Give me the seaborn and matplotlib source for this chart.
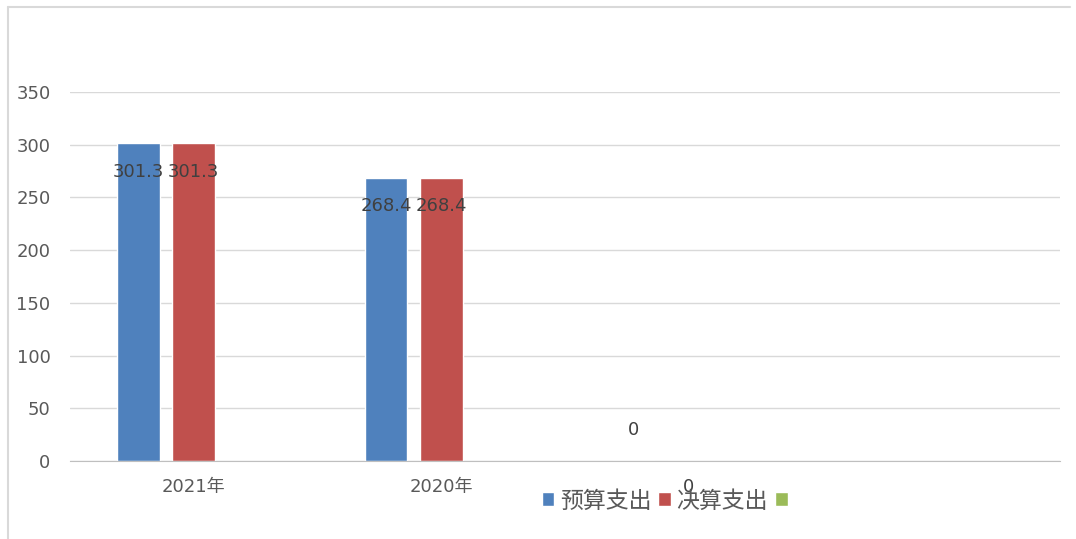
import pandas as pd
import seaborn as sns
import matplotlib.pyplot as plt
from matplotlib.lines import Line2D

# 数据
categories = ['2021年', '2020年', 'c3', 'c4']
tick_labels = ['2021年', '2020年', '', '']
series = ['预算支出', '决算支出', ' ']
budget = [301.3, 268.4, 0, None]
final = [301.3, 268.4, 0, None]
other = [None, None, None, None]
colors = ['#4F81BD', '#C0504D', '#9BBB59']

rows = []
for name, vals in zip(series, [budget, final, other]):
    for c, v in zip(categories, vals):
        rows.append({'cat': c, 'series': name, 'value': v})
data = pd.DataFrame(rows)

sns.set_style('white')
plt.rcParams['font.family'] = ['DejaVu Sans', 'Noto Sans CJK SC']

fig = plt.figure(figsize=(10.76, 5.39), dpi=100)
ax = fig.add_axes([70 / 1076, 1 - 461 / 539, 990 / 1076, (461 - 92) / 539])

sns.barplot(data=data, x='cat', y='value', hue='series', order=categories,
            hue_order=series, palette=colors, width=0.67, gap=0.23,
            saturation=1, ax=ax, legend=True)

ax.set_xlim(-0.5, 3.5)
ax.set_ylim(0, 350)
ax.set_yticks(range(0, 351, 50))
ax.set_xticks(range(4))
ax.set_xticklabels(tick_labels)
ax.set_xlabel('')
ax.set_ylabel('')
ax.yaxis.grid(True, color='#D9D9D9', linewidth=1)
ax.set_axisbelow(True)
for s in ['top', 'right', 'left']:
    ax.spines[s].set_visible(False)
ax.spines['bottom'].set_color('#BFBFBF')
ax.tick_params(axis='both', length=0, labelsize=13, colors='#595959')
ax.tick_params(axis='x', pad=12)
ax.tick_params(axis='y', pad=14)

# 数据标签
for cont, vals in zip(ax.containers[:2], [budget, final]):
    for i, (bar, v) in enumerate(zip(cont, vals)):
        if v is None:
            continue
        xc = bar.get_x() + bar.get_width() / 2
        if v > 0:
            ax.text(xc, v - 27, f'{v}', ha='center', va='center',
                    fontsize=13, color='#404040')
# 零值标签
z = ax.containers[0][2]
ax.text(z.get_x() + z.get_width() / 2, 29, '0', ha='center', va='center',
        fontsize=13, color='#404040', clip_on=False)
z = ax.containers[1][2]
ax.text(z.get_x() + z.get_width() / 2, -25, '0', ha='center', va='center',
        fontsize=13, color='#404040', clip_on=False)

handles, labels = ax.get_legend_handles_labels()
ax.legend(handles, labels, loc='center', bbox_to_anchor=(670 / 1076, 1 - 501 / 539),
          bbox_transform=fig.transFigure, ncol=3, frameon=False,
          prop={'family': 'Noto Sans CJK SC', 'size': 16.5},
          handlelength=0.55, handleheight=0.55, handletextpad=0.25, columnspacing=0.3,
          labelcolor='#595959')

# 外框
fig.add_artist(Line2D([8 / 1076, 1070 / 1076], [1 - 7 / 539, 1 - 7 / 539],
                      transform=fig.transFigure, color='#D9D9D9', linewidth=1.5))
fig.add_artist(Line2D([8 / 1076, 8 / 1076], [1 - 7 / 539, 0],
                      transform=fig.transFigure, color='#D9D9D9', linewidth=1.5))

plt.savefig('out.png', dpi=100)
